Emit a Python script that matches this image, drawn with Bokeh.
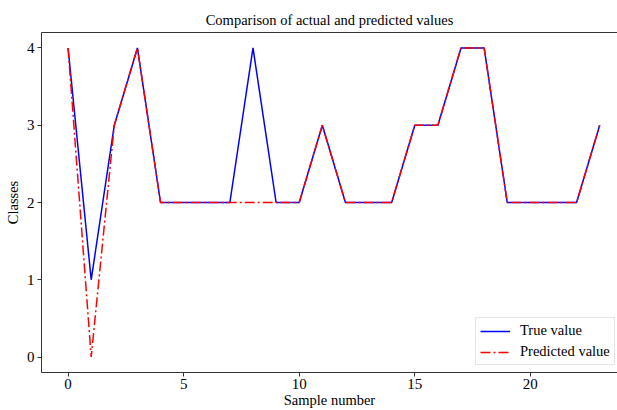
from bokeh.plotting import figure
from bokeh.models import LinearAxis, FixedTicker, Legend, LegendItem
from bokeh.embed import file_html
from bokeh.resources import INLINE

# Sample index and class labels
samples = list(range(24))
true_values = [4, 1, 3, 4, 2, 2, 2, 2, 4, 2, 2, 3, 2, 2, 2, 3, 3, 4, 4, 2, 2, 2, 2, 3]
predicted_values = [4, 0, 3, 4, 2, 2, 2, 2, 2, 2, 2, 3, 2, 2, 2, 3, 3, 4, 4, 2, 2, 2, 2, 3]
x_ticks = [0, 5, 10, 15, 20]
y_ticks = [0, 1, 2, 3, 4]

FONT = "Liberation Serif"

p = figure(width=617, height=410, x_range=(-1.15, 23.77), y_range=(-0.2, 4.2),
           output_backend="svg", toolbar_location=None,
           min_border_left=41, min_border_right=0, min_border_top=32, min_border_bottom=0,
           title="Comparison of actual and predicted values")
p.outline_line_color = None
p.grid.visible = False
p.background_fill_color = "white"

p.title.text_font = FONT
p.title.text_font_size = "14.5px"
p.title.text_font_style = "normal"
p.title.align = "center"
p.title.offset = 4
p.title.text_color = "black"

for ax in (p.xaxis[0], p.yaxis[0]):
    ax.axis_line_color = "#333333"
    ax.axis_line_width = 1
    ax.major_tick_line_color = "#333333"
    ax.major_tick_out = 4
    ax.major_tick_in = 0
    ax.minor_tick_line_color = None
    ax.major_label_text_font = FONT
    ax.major_label_text_font_size = "15px"
    ax.major_label_text_color = "black"
    ax.axis_label_text_font = FONT
    ax.axis_label_text_font_size = "14.5px"
    ax.axis_label_text_font_style = "normal"
    ax.axis_label_text_color = "black"
    ax.major_label_text_line_height = 0.8
    ax.axis_label_text_line_height = 0.8

p.xaxis[0].ticker = FixedTicker(ticks=x_ticks)
p.yaxis[0].ticker = FixedTicker(ticks=y_ticks)
p.xaxis[0].axis_label = "Sample number"
p.yaxis[0].axis_label = "Classes"
p.xaxis[0].major_label_standoff = 2
p.xaxis[0].axis_label_standoff = 0
p.yaxis[0].major_label_standoff = 3
p.yaxis[0].axis_label_standoff = 3

# top spine
top = LinearAxis(ticker=FixedTicker(ticks=[]), axis_line_color="#333333",
                 major_tick_line_color=None, minor_tick_line_color=None,
                 major_label_text_font_size="0px")
p.add_layout(top, "above")

r_true = p.line(samples, true_values, line_color="#0000ff", line_width=1.5)
r_pred = p.line(samples, predicted_values, line_color="#ff0000", line_width=1.5,
                line_dash="10 3 2 3")

legend = Legend(items=[LegendItem(label="True value", renderers=[r_true]),
                       LegendItem(label="Predicted value", renderers=[r_pred])],
                location=(434, 7))
legend.label_text_font = FONT
legend.label_text_font_size = "14.5px"
legend.label_text_color = "black"
legend.glyph_width = 30
legend.glyph_height = 14
legend.label_height = 14
legend.label_standoff = 10
legend.spacing = 4
legend.padding = 4
legend.border_line_color = "#cccccc"
legend.border_line_width = 1
legend.background_fill_alpha = 0.9
p.add_layout(legend, "center")

open("out.html", "w").write(file_html(p, INLINE))
